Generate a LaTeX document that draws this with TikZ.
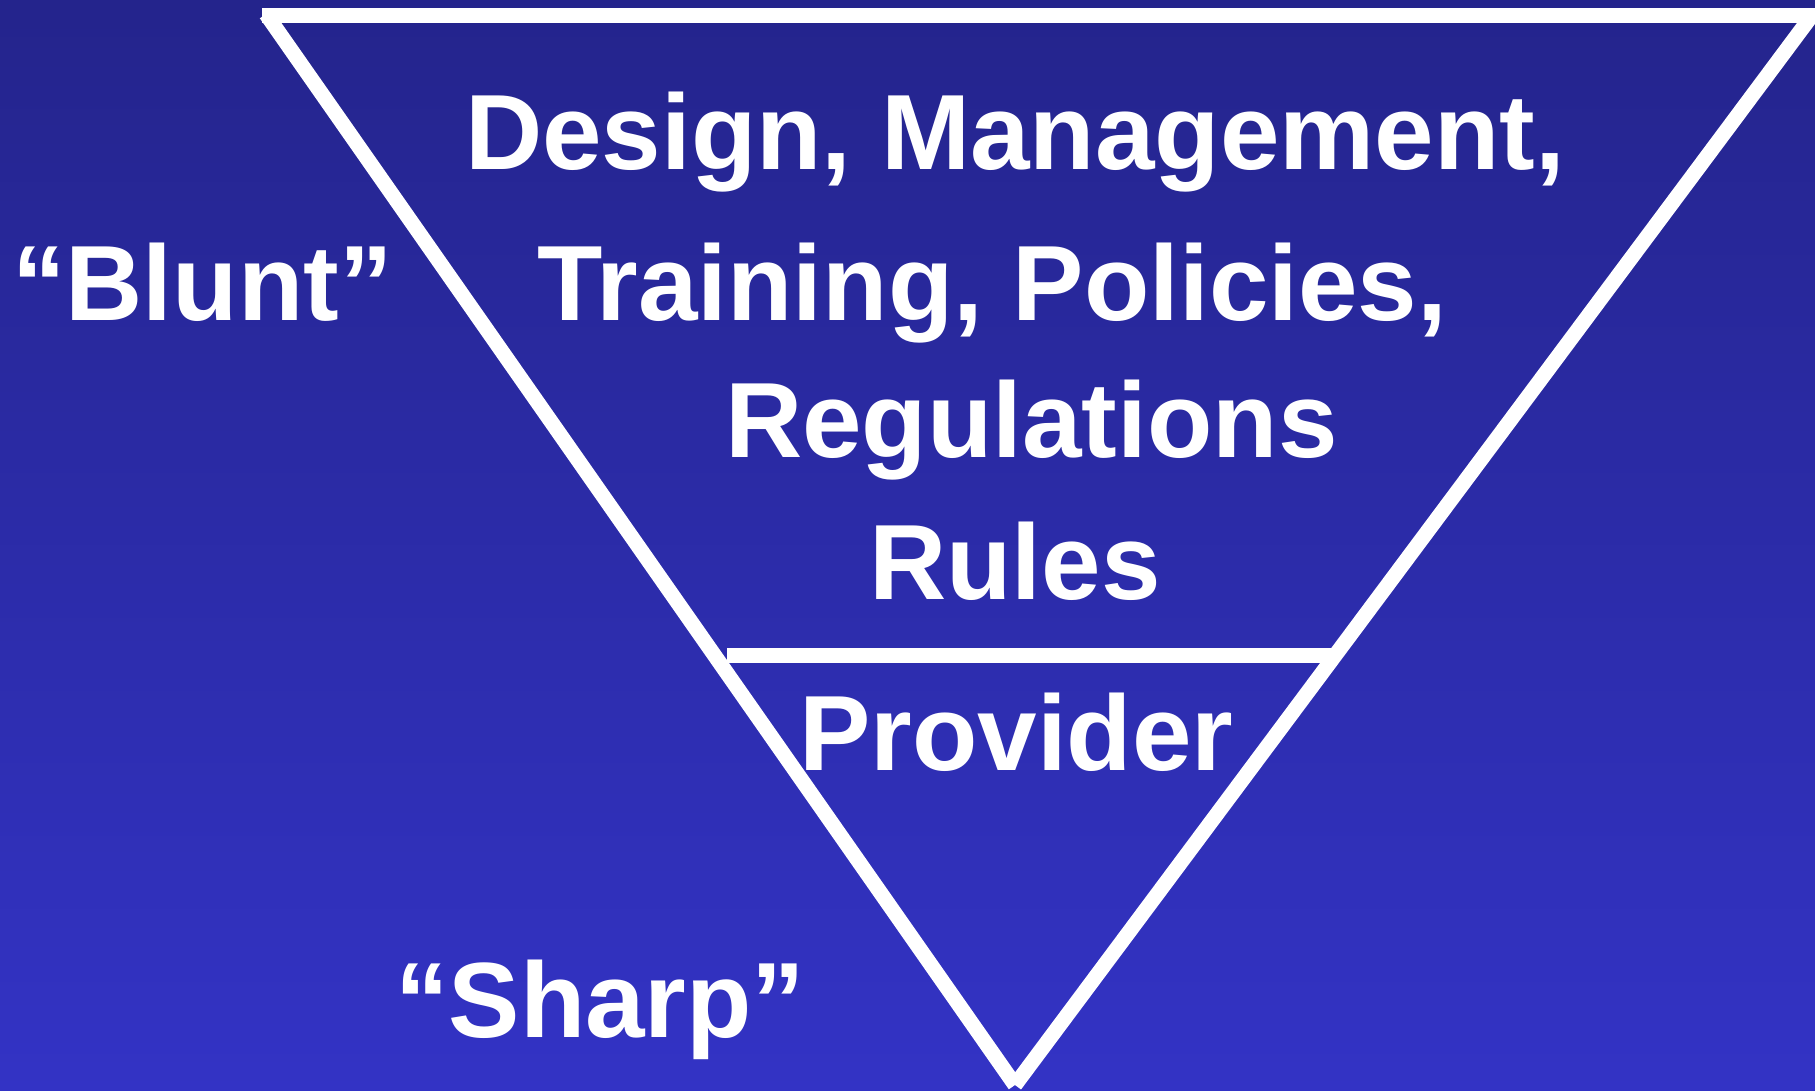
\documentclass[tikz,border=0pt]{standalone}
\usepackage{fontspec}
\setmainfont{Liberation Sans}
\begin{document}
\begin{tikzpicture}[x=1pt,y=-1pt,
  edge/.style={draw=white,line width=15pt,line cap=butt},
  bigtext/.style={text=white,inner sep=0pt,anchor=base west,
    font=\bfseries\fontsize{107}{120}\selectfont}]
% background with a vertical blue gradient
\shade[top color={rgb,255:red,36;green,36;blue,140},
       bottom color={rgb,255:red,51;green,51;blue,197}]
  (0,0) rectangle (1815,1090);
\useasboundingbox (0,0) rectangle (1815,1090);

% corner points of the inverted triangle
\coordinate (topL) at (262,15);
\coordinate (topR) at (1815,15);
\coordinate (tl) at (266,14);
\coordinate (tr) at (1813,14);
\coordinate (bv) at (1015,1085);
\coordinate (ml) at (727,655.5);
\coordinate (mr) at (1336,655.5);

% triangle sides and the dividing line
\draw[edge] (topL) -- (topR);
\draw[edge] (tl) -- (bv);
\draw[edge] (tr) -- (bv);
\draw[edge] (ml) -- (mr);

% labels
\node[bigtext] (design) at (465,169) {Design, Management,};
\node[bigtext] (training) at (537,320) {Training, Policies,};
\node[bigtext] (regs) at (725,457) {Regulations};
\node[bigtext] (rules) at (869,599) {Rules};
\node[bigtext] (provider) at (799,770) {Provider};
\node[bigtext] (blunt) at (12,320) {“Blunt”};
\node[bigtext] (sharp) at (395,1037) {“Sharp”};
\end{tikzpicture}
\end{document}
